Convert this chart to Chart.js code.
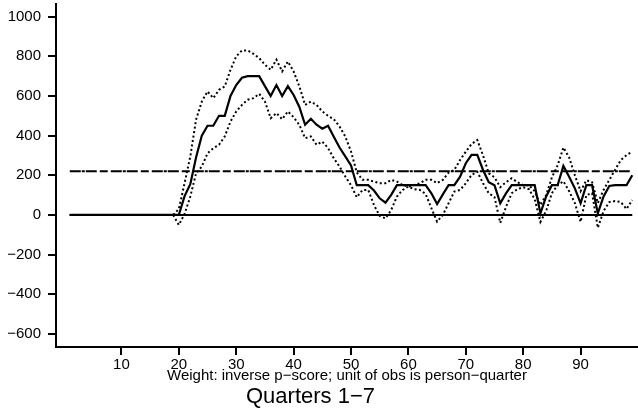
<!DOCTYPE html>
<html><head><meta charset="utf-8">
<script src="https://cdn.jsdelivr.net/npm/chart.js@4"></script>
<style>html,body{margin:0;padding:0;background:#fff;}#wrap{width:638px;height:414px;}</style>
</head><body><div id="wrap"><canvas id="c" width="638" height="414"></canvas></div>
<script>
const quarters = [1,2,3,4,5,6,7,8,9,10,11,12,13,14,15,16,17,18,19,20,21,22,23,24,25,26,27,28,29,30,31,32,33,34,35,36,37,38,39,40,41,42,43,44,45,46,47,48,49,50,51,52,53,54,55,56,57,58,59,60,61,62,63,64,65,66,67,68,69,70,71,72,73,74,75,76,77,78,79,80,81,82,83,84,85,86,87,88,89,90,91,92,93,94,95,96,97,98,99];
const estimate = [0,0,0,0,0,0,0,0,0,0,0,0,0,0,0,0,0,0,0,0,95,155,290,400,450,450,500,500,600,655,692,700,700,700,650,600,655,600,650,605,545,455,485,455,435,450,395,340,295,250,150,150,150,123,84,62,101,150,150,150,150,150,150,109,55,104,150,150,193,261,303,303,227,165,150,59,109,150,150,150,150,150,8,93,150,150,247,193,134,59,150,150,8,93,146,150,150,150,200];
const upperBand = [0,0,0,0,0,0,0,0,0,0,0,0,0,0,0,0,0,0,0,30,160,295,480,572,623,589,631,648,732,800,830,830,813,791,758,732,783,724,774,724,648,555,572,555,522,500,483,446,396,320,215,177,177,168,160,160,177,168,151,143,151,160,177,177,160,177,213,227,277,319,358,378,300,210,190,140,165,185,165,150,150,120,50,100,190,250,340,290,200,120,175,165,60,126,177,227,277,302,319];
const lowerBand = [0,0,0,0,0,0,0,0,0,0,0,0,0,0,0,0,0,0,0,-50,5,93,210,244,311,337,354,396,471,522,555,581,589,611,572,488,514,483,522,493,454,387,396,354,370,337,286,244,194,150,89,126,126,50,-5,-17,25,93,126,143,130,126,106,34,-34,0,59,118,126,160,202,218,160,110,90,-40,40,110,130,140,130,80,-35,20,110,150,170,120,60,-35,100,110,-65,20,65,70,65,30,75];
const refX = [1, 99];
const zeroLine = [0, 0];
const meanLine = [220, 220];
const xTickValues = [10,20,30,40,50,60,70,80,90];
const yTickValues = [-600,-400,-200,0,200,400,600,800,1000];
const xTitle = 'Weight: inverse p\u2212score; unit of obs is person\u2212quarter';
const bottomTitle = 'Quarters 1\u22127';

const FONT = 'Liberation Sans, Arial, Helvetica, sans-serif';
const pts = (xs, ys) => xs.map((x, i) => ({x: x, y: ys[i]}));

const bottomTitlePlugin = {
  id: 'bottomTitle',
  afterDraw(chart) {
    const ctx = chart.ctx;
    ctx.save();
    ctx.font = '22px ' + FONT;
    ctx.fillStyle = '#000';
    ctx.textAlign = 'center';
    ctx.textBaseline = 'alphabetic';
    ctx.fillText(bottomTitle, 310.5, 403);
    ctx.restore();
  }
};

const noPad = s => { s.paddingTop = 0; s.paddingBottom = 0; s.paddingLeft = 0; s.paddingRight = 0; };
const lineBase = {pointRadius: 0, tension: 0, fill: false, borderColor: '#000', borderCapStyle: 'butt'};

new Chart(document.getElementById('c'), {
  type: 'line',
  data: {
    datasets: [
      Object.assign({}, lineBase, {label: 'upper', data: pts(quarters, upperBand), borderWidth: 2, borderDash: [2, 2.5]}),
      Object.assign({}, lineBase, {label: 'lower', data: pts(quarters, lowerBand), borderWidth: 2, borderDash: [2, 2.5]}),
      Object.assign({}, lineBase, {label: 'zero', data: pts(refX, zeroLine), borderWidth: 2}),
      Object.assign({}, lineBase, {label: 'mean', data: pts(refX, meanLine), borderWidth: 2, borderDash: [11, 1, 3, 1, 11, 3, 8, 3]}),
      Object.assign({}, lineBase, {label: 'estimate', data: pts(quarters, estimate), borderWidth: 2.2})
    ]
  },
  options: {
    responsive: false,
    animation: false,
    devicePixelRatio: 1,
    layout: {padding: {top: 4, left: 0, right: 0, bottom: 0}},
    plugins: {legend: {display: false}, tooltip: {enabled: false}, title: {display: false}},
    scales: {
      x: {
        type: 'linear', min: -1.4, max: 100,
        afterBuildTicks: s => { s.ticks = xTickValues.map(v => ({value: v})); },
        afterFit: s => { s.height = 67; noPad(s); },
        ticks: {font: {family: FONT, size: 15}, color: '#000', padding: 1, maxRotation: 0, autoSkip: false},
        grid: {drawOnChartArea: false, drawTicks: true, tickLength: 8, color: '#000', lineWidth: 2},
        border: {display: true, color: '#000', width: 2},
        title: {display: true, text: xTitle, font: {family: FONT, size: 15}, color: '#000', padding: {top: 0, bottom: 29}}
      },
      y: {
        type: 'linear', min: -666, max: 1064,
        afterBuildTicks: s => { s.ticks = yTickValues.map(v => ({value: v})); },
        afterFit: s => { s.width = 56; noPad(s); },
        ticks: {font: {family: FONT, size: 15}, color: '#000', padding: 7,
          callback: v => v < 0 ? '\u2212' + Math.abs(v) : String(v)},
        grid: {drawOnChartArea: false, drawTicks: true, tickLength: 8, color: '#000', lineWidth: 2},
        border: {display: true, color: '#000', width: 2}
      }
    }
  },
  plugins: [bottomTitlePlugin]
});
</script>
</body></html>
